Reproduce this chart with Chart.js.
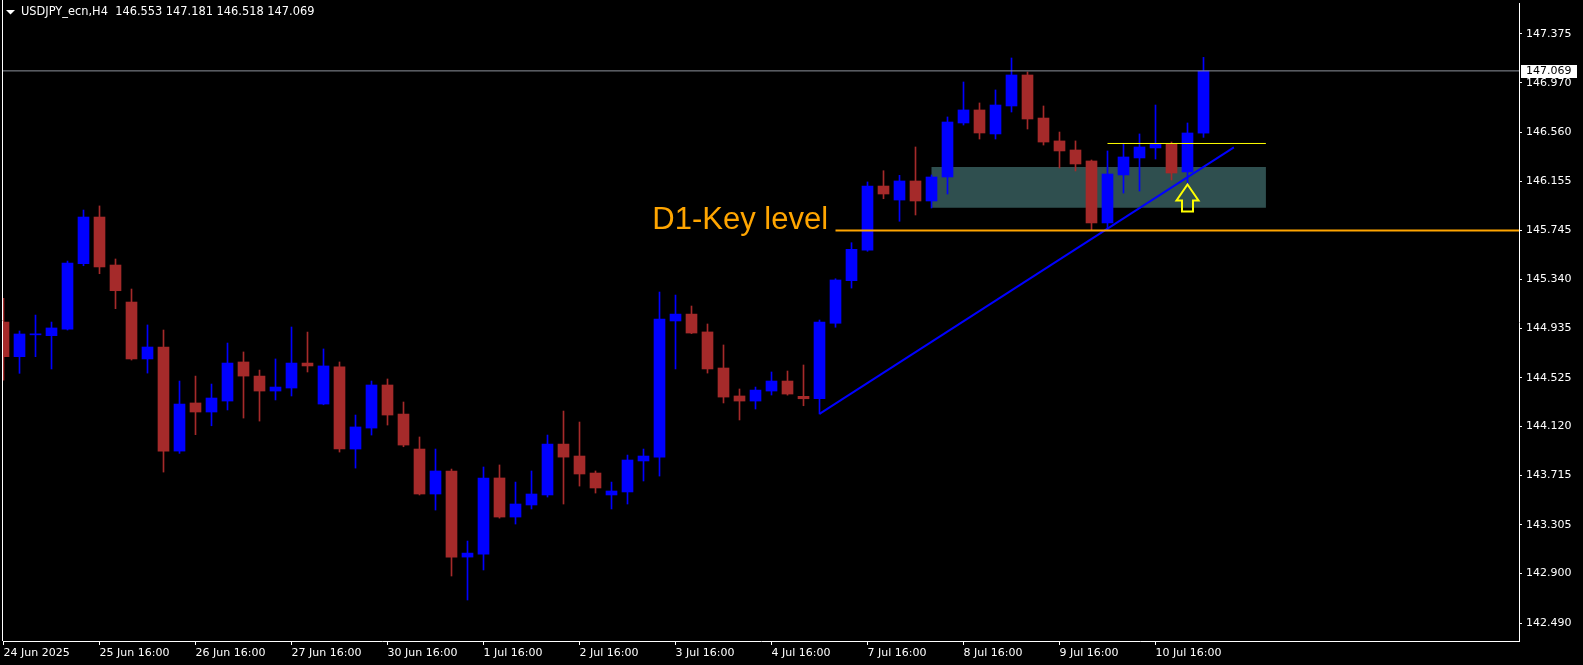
<!DOCTYPE html>
<html>
<head>
<meta charset="utf-8">
<script src="https://cdn.jsdelivr.net/npm/chart.js@4.4.0/dist/chart.umd.min.js"></script>
<style>
  html, body { margin: 0; padding: 0; background: #000; overflow: hidden; }
  canvas { display: block; }
</style>
</head>
<body>
<canvas id="myChart" width="1583" height="665"></canvas>
<script>
// USDJPY_ecn H4 candles, bar index 0 = 24 Jun 16:00
const opens = [144.986, 144.699, 144.880, 144.873, 144.928, 145.470, 145.857, 145.459, 145.152, 144.680,
  144.779, 143.916, 144.315, 144.240, 144.331, 144.655, 144.538, 144.414, 144.439, 144.646,
  144.306, 144.614, 143.933, 144.107, 144.464, 144.223, 143.933, 143.560, 143.751, 143.037,
  143.062, 143.693, 143.369, 143.469, 143.552, 143.974, 143.875, 143.734, 143.552, 143.577,
  143.834, 143.866, 144.995, 145.052, 144.904, 144.605, 144.373, 144.331, 144.414, 144.497,
  144.370, 144.350, 144.976, 145.329, 145.583, 146.114, 145.998, 146.156, 145.990, 146.189,
  146.637, 146.745, 146.546, 146.778, 147.035, 146.678, 146.488, 146.413, 146.322, 145.808,
  146.206, 146.347, 146.430, 146.463, 146.231, 146.553];
const highs = [145.183, 144.912, 145.044, 144.986, 145.492, 145.915, 145.949, 145.509, 145.260, 144.962,
  144.920, 144.497, 144.538, 144.472, 144.812, 144.738, 144.588, 144.680, 144.945, 144.903,
  144.763, 144.655, 144.215, 144.497, 144.514, 144.323, 144.033, 143.933, 143.767, 143.170,
  143.784, 143.801, 143.659, 143.751, 144.049, 144.248, 144.157, 143.751, 143.659, 143.883,
  143.933, 145.235, 145.210, 145.119, 144.970, 144.796, 144.431, 144.447, 144.572, 144.580,
  144.630, 145.003, 145.345, 145.644, 146.148, 146.241, 146.203, 146.438, 146.206, 146.687,
  146.977, 146.803, 146.911, 147.176, 147.060, 146.778, 146.562, 146.488, 146.330, 146.405,
  146.463, 146.546, 146.786, 146.479, 146.637, 147.181];
const lows = [144.505, 144.561, 144.699, 144.597, 144.920, 145.453, 145.387, 145.097, 144.671, 144.563,
  143.742, 143.897, 144.052, 144.126, 144.257, 144.190, 144.165, 144.340, 144.373, 144.572,
  144.300, 143.908, 143.775, 144.049, 144.132, 143.952, 143.552, 143.427, 142.880, 142.681,
  142.930, 143.360, 143.311, 143.436, 143.535, 143.477, 143.626, 143.568, 143.436, 143.477,
  143.668, 143.709, 144.597, 144.890, 144.563, 144.315, 144.174, 144.265, 144.381, 144.380,
  144.292, 144.224, 144.943, 145.268, 145.573, 146.009, 145.822, 145.874, 145.932, 146.048,
  146.620, 146.504, 146.504, 146.728, 146.587, 146.454, 146.264, 146.239, 145.750, 145.750,
  146.056, 146.073, 146.338, 146.164, 146.123, 146.518];
const closes = [144.699, 144.887, 144.888, 144.937, 145.476, 145.857, 145.443, 145.246, 144.680, 144.779,
  143.916, 144.306, 144.240, 144.356, 144.646, 144.538, 144.414, 144.447, 144.646, 144.622,
  144.622, 143.933, 144.116, 144.464, 144.215, 143.966, 143.560, 143.751, 143.037, 143.070,
  143.693, 143.369, 143.477, 143.560, 143.974, 143.866, 143.726, 143.610, 143.585, 143.842,
  143.875, 145.011, 145.052, 144.895, 144.597, 144.364, 144.331, 144.422, 144.497, 144.389,
  144.350, 144.986, 145.335, 145.589, 146.114, 146.048, 146.156, 145.990, 146.189, 146.645,
  146.745, 146.554, 146.786, 147.035, 146.670, 146.479, 146.405, 146.297, 145.808, 146.214,
  146.355, 146.438, 146.463, 146.222, 146.554, 147.069];

const timeTicks = [0, 6, 12, 18, 24, 30, 36, 42, 48, 54, 60, 66, 72];
const timeLabels = ['24 Jun 2025', '25 Jun 16:00', '26 Jun 16:00', '27 Jun 16:00', '30 Jun 16:00',
  '1 Jul 16:00', '2 Jul 16:00', '3 Jul 16:00', '4 Jul 16:00', '7 Jul 16:00', '8 Jul 16:00',
  '9 Jul 16:00', '10 Jul 16:00'];
const priceTicks = [147.375, 146.970, 146.560, 146.155, 145.745, 145.340, 144.935, 144.525,
  144.120, 143.715, 143.305, 142.900, 142.490];

const lastPrice = 147.069;
const keyLevel = 145.745;   // D1-Key level, from bar 52
const resistLevel = 146.467; // yellow line, bars 69..78.9
const zoneTop = 146.272, zoneBottom = 145.934; // zone box, bars 58..78.9
const trendStart = [51, 144.224];
const trendEnd = [76.9, 146.435];
const arrowBar = 74;

const xMin = -0.03125, xMax = 94.71875;
const yMin = 142.341, yMax = 147.632;

const BULL = '#0000ff';
const BEAR = '#a52a2a';
const colors = closes.map((c, i) => c >= opens[i] ? BULL : BEAR);

const bodies = closes.map((c, i) => ({ x: i, y: [opens[i], c] }));
const wicks = closes.map((c, i) => ({ x: i, y: [lows[i], highs[i]] }));

const hline = (from, to, v) => [{ x: from, y: v }, { x: to, y: v }];

const overlay = {
  id: 'overlay',
  beforeDatasetsDraw(chart) {
    const { ctx, scales: { x, y } } = chart;
    ctx.save();
    ctx.fillStyle = 'rgb(47,79,79)';
    const x0 = x.getPixelForValue(58), x1 = x.getPixelForValue(78.9);
    const y0 = y.getPixelForValue(zoneTop), y1 = y.getPixelForValue(zoneBottom);
    ctx.fillRect(x0, y0, x1 - x0, y1 - y0);
    ctx.restore();
  },
  afterDatasetsDraw(chart) {
    const { ctx, scales: { x, y } } = chart;
    ctx.save();
    // up arrow under bar 74
    const px = x.getPixelForValue(arrowBar);
    const py = y.getPixelForValue(lows[arrowBar]) - 0.5;
    ctx.beginPath();
    ctx.moveTo(px, py);
    ctx.lineTo(px + 11, py + 16);
    ctx.lineTo(px + 5.5, py + 16);
    ctx.lineTo(px + 5.5, py + 27);
    ctx.lineTo(px - 5.5, py + 27);
    ctx.lineTo(px - 5.5, py + 16);
    ctx.lineTo(px - 11, py + 16);
    ctx.closePath();
    ctx.strokeStyle = '#ffff00';
    ctx.lineWidth = 2;
    ctx.lineJoin = 'miter';
    ctx.stroke();

    // key level text
    ctx.fillStyle = '#ffa500';
    ctx.font = '31px "Liberation Sans", Arial, sans-serif';
    ctx.textBaseline = 'alphabetic';
    ctx.textAlign = 'left';
    ctx.fillText('D1-Key level', x.getPixelForValue(40.55), y.getPixelForValue(keyLevel) - 1.5);
    ctx.restore();
  },
  afterDraw(chart) {
    const { ctx, chartArea, scales: { y } } = chart;
    ctx.save();
    // left frame line
    ctx.strokeStyle = '#ffffff';
    ctx.lineWidth = 1;
    ctx.beginPath();
    ctx.moveTo(2.5, 0);
    ctx.lineTo(2.5, chartArea.bottom);
    ctx.stroke();

    // header
    ctx.fillStyle = '#ffffff';
    ctx.beginPath();
    ctx.moveTo(6, 10);
    ctx.lineTo(15, 10);
    ctx.lineTo(10.5, 14.5);
    ctx.closePath();
    ctx.fill();
    ctx.font = '11.4px "DejaVu Sans", sans-serif';
    ctx.textBaseline = 'middle';
    ctx.textAlign = 'left';
    ctx.fillText('USDJPY_ecn,H4  146.553 147.181 146.518 147.069', 21, 12.5);

    // last price label
    const ly = y.getPixelForValue(lastPrice);
    ctx.font = '11px "DejaVu Sans", sans-serif';
    ctx.fillStyle = '#ffffff';
    ctx.fillRect(chartArea.right + 2, Math.round(ly) - 6, 56, 13);
    ctx.fillStyle = '#000000';
    ctx.fillText(lastPrice.toFixed(3), chartArea.right + 7, Math.round(ly) + 0.5);
    ctx.restore();
  }
};

new Chart(document.getElementById('myChart').getContext('2d'), {
  type: 'bar',
  data: {
    datasets: [
      {
        type: 'line', data: hline(xMin, xMax, lastPrice), borderColor: '#8e939c', borderWidth: 1,
        pointRadius: 0, order: -1
      },
      {
        type: 'line', data: hline(52, xMax, keyLevel), borderColor: '#ffa500', borderWidth: 2,
        pointRadius: 0, order: -1
      },
      {
        type: 'line', data: hline(69, 78.9, resistLevel), borderColor: '#ffff00', borderWidth: 1,
        pointRadius: 0, order: -1
      },
      {
        type: 'line', data: [{ x: trendStart[0], y: trendStart[1] }, { x: trendEnd[0], y: trendEnd[1] }],
        borderColor: '#0000ff', borderWidth: 2, pointRadius: 0, order: -1
      },
      {
        data: bodies, backgroundColor: colors, barThickness: 11, grouped: false,
        minBarLength: 1, borderWidth: 0, order: 0
      },
      {
        data: wicks, backgroundColor: colors, barThickness: 1, grouped: false,
        borderWidth: 0, order: 1
      }
    ]
  },
  options: {
    responsive: false,
    animation: false,
    devicePixelRatio: 1,
    layout: { autoPadding: false, padding: { top: 3, left: 3, right: 0, bottom: 0 } },
    plugins: { legend: { display: false }, tooltip: { enabled: false } },
    scales: {
      x: {
        type: 'linear',
        min: xMin,
        max: xMax,
        offset: false,
        afterBuildTicks: (scale) => { scale.ticks = timeTicks.map(v => ({ value: v })); },
        afterFit: (scale) => {
          scale.height = 24;
          scale.paddingLeft = 0;
          scale.paddingRight = 0;
        },
        grid: { display: true, offset: false, drawOnChartArea: false, drawTicks: true, tickLength: 4, color: '#ffffff' },
        border: { display: true, color: '#ffffff', width: 1 },
        ticks: {
          autoSkip: false, maxRotation: 0, minRotation: 0, align: 'start', padding: 2,
          color: '#ffffff', font: { family: 'DejaVu Sans', size: 11 },
          callback: (v) => timeLabels[timeTicks.indexOf(v)]
        }
      },
      y: {
        position: 'right',
        min: yMin,
        max: yMax,
        afterBuildTicks: (scale) => { scale.ticks = priceTicks.map(v => ({ value: v })); },
        afterFit: (scale) => {
          scale.width = 64;
          scale.paddingTop = 0;
          scale.paddingBottom = 0;
        },
        grid: { display: true, drawOnChartArea: false, drawTicks: true, tickLength: 3, color: '#ffffff' },
        border: { display: true, color: '#ffffff', width: 1 },
        ticks: {
          padding: 4, color: '#ffffff', font: { family: 'DejaVu Sans', size: 11 },
          callback: (v) => v.toFixed(3)
        }
      }
    }
  },
  plugins: [overlay]
});
</script>
</body>
</html>
